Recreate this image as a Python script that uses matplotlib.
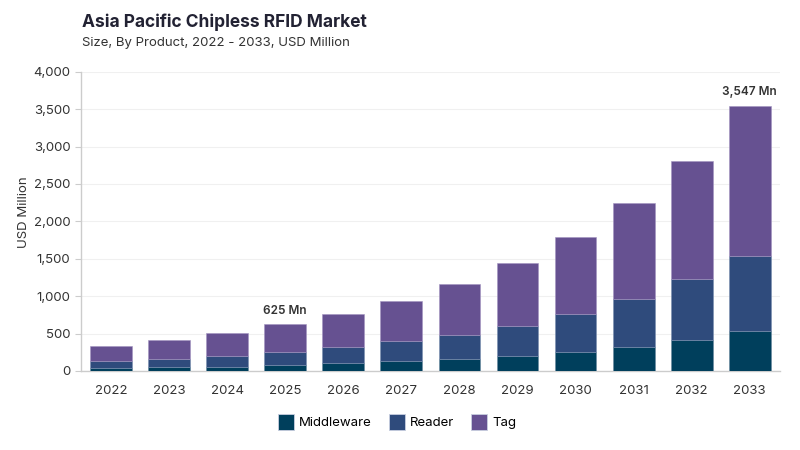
import numpy as np
import matplotlib.pyplot as plt
from matplotlib.lines import Line2D

plt.rcParams['font.family'] = ['Inter', 'DejaVu Sans']

years = ['2022', '2023', '2024', '2025', '2026', '2027',
         '2028', '2029', '2030', '2031', '2032', '2033']
middleware = [45, 50, 58, 85, 103, 130, 165, 205, 258, 325, 419, 539]
reader = [85, 115, 147, 173, 214, 267, 321, 401, 509, 643, 808, 1004]
tag = [204, 250, 303, 367, 445, 540, 674, 835, 1026, 1275, 1585, 2004]
totals_labeled = {3: '625 Mn', 11: '3,547 Mn'}

c_mid = '#003f5c'
c_read = '#2f4b7c'
c_tag = '#665191'

fig = plt.figure(figsize=(8, 4.5), dpi=100)
ax = fig.add_axes([0.101, 0.1756, 0.874, 0.665])

x = np.arange(len(years))
w = 0.72
mid = np.array(middleware)
rd = np.array(reader)
tg = np.array(tag)

ax.bar(x, mid, w, color=c_mid, edgecolor='#6b8aa0', linewidth=0.4, zorder=3)
ax.bar(x, rd, w, bottom=mid, color=c_read, edgecolor='#7a8fb0', linewidth=0.4, zorder=3)
ax.bar(x, tg, w, bottom=mid + rd, color=c_tag, edgecolor='#a394c0', linewidth=0.4, zorder=3)

tot = mid + rd + tg
for i, lab in totals_labeled.items():
    ax.text(i, tot[i] + 100, lab, ha='center', va='bottom', fontsize=8.5,
            fontweight='semibold', color='#333333')

ax.set_xlim(-0.52, len(years) - 0.48)
ax.set_ylim(0, 4000)
ax.set_yticks(np.arange(0, 4001, 500))
ax.set_yticklabels([f'{v:,}' for v in range(0, 4001, 500)])
ax.set_xticks(x)
ax.set_xticklabels(years)
ax.tick_params(axis='y', labelsize=9.5, colors='#cccccc', labelcolor='#333333', length=4, width=0.8)
ax.tick_params(axis='x', labelsize=9.5, labelcolor='#333333', length=0, pad=10)
ax.grid(axis='y', color='#f0f0f0', linewidth=0.8, zorder=0)
for s in ['top', 'right']:
    ax.spines[s].set_visible(False)
for s in ['left', 'bottom']:
    ax.spines[s].set_color('#cccccc')
    ax.spines[s].set_linewidth(1)
ax.set_ylabel('USD Million', fontsize=9.5, color='#333333')
ax.yaxis.set_label_coords(-0.072, 0.53)

fig.text(0.1025, 0.95, 'Asia Pacific Chipless RFID Market', fontsize=12.5,
         fontweight='bold', color='#222233', va='center')
fig.text(0.1025, 0.905, 'Size, By Product, 2022 - 2033, USD Million', fontsize=9.5,
         color='#333333', va='center')

handles = [Line2D([], [], marker='s', linestyle='', markersize=11, markerfacecolor=c,
                  markeredgecolor='#c8cfe0', markeredgewidth=0.6)
           for c in [c_mid, c_read, c_tag]]
fig.legend(handles, ['Middleware', 'Reader', 'Tag'], loc='center',
           bbox_to_anchor=(0.495, 0.06), ncol=3, frameon=False, fontsize=9.5,
           handletextpad=0.2, columnspacing=1.2, handlelength=1.5)

fig.savefig('out.png', dpi=100)
